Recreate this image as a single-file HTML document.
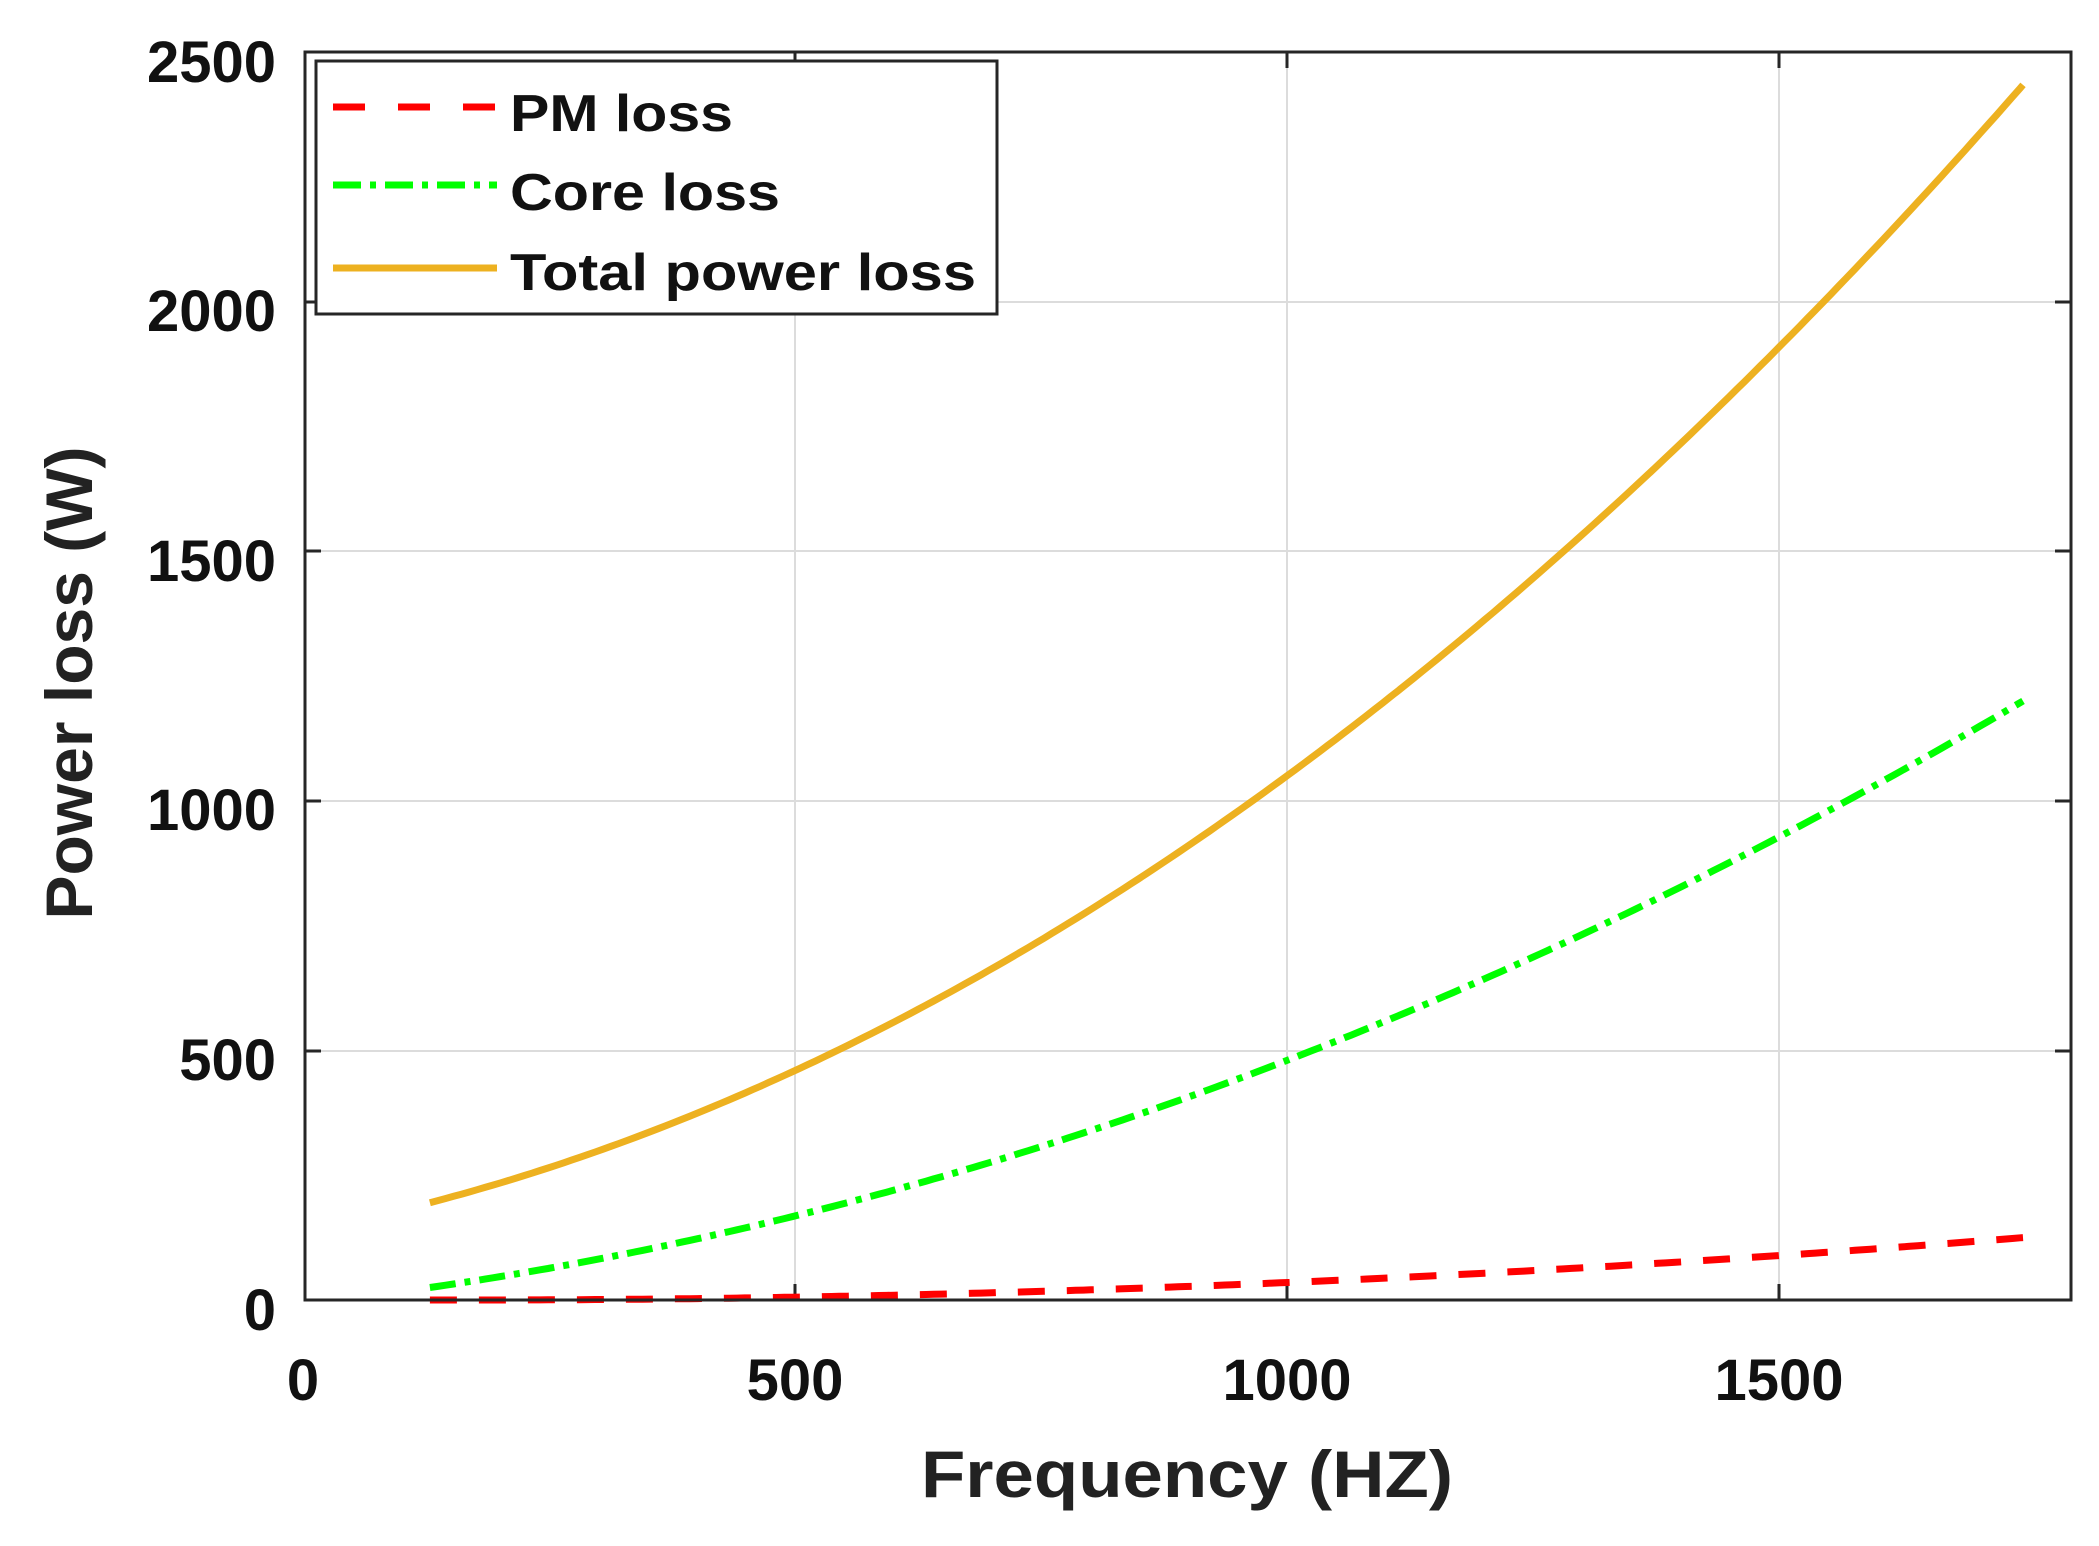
<!DOCTYPE html>
<html><head><meta charset="utf-8"><style>html,body{margin:0;padding:0;background:#fff}svg{display:block}</style></head>
<body>
<svg id="s" width="2099" height="1546" xmlns="http://www.w3.org/2000/svg" font-family="Liberation Sans, Arial, sans-serif" font-weight="bold">
<rect width="2099" height="1546" fill="#fff"/>
<g stroke="#dcdcdc" stroke-width="2">
<line x1="795" y1="52" x2="795" y2="1300"/>
<line x1="1287" y1="52" x2="1287" y2="1300"/>
<line x1="1779" y1="52" x2="1779" y2="1300"/>
<line x1="305" y1="1051" x2="2071" y2="1051"/>
<line x1="305" y1="801" x2="2071" y2="801"/>
<line x1="305" y1="551" x2="2071" y2="551"/>
<line x1="305" y1="302" x2="2071" y2="302"/>
</g>
<g stroke="#262626" stroke-width="3">
<line x1="795" y1="1300" x2="795" y2="1284"/><line x1="1287" y1="1300" x2="1287" y2="1284"/><line x1="1779" y1="1300" x2="1779" y2="1284"/>
<line x1="795" y1="52" x2="795" y2="68"/><line x1="1287" y1="52" x2="1287" y2="68"/><line x1="1779" y1="52" x2="1779" y2="68"/>
<line x1="305" y1="1051" x2="321" y2="1051"/><line x1="305" y1="801" x2="321" y2="801"/><line x1="305" y1="551" x2="321" y2="551"/><line x1="305" y1="302" x2="321" y2="302"/>
<line x1="2071" y1="1051" x2="2055" y2="1051"/><line x1="2071" y1="801" x2="2055" y2="801"/><line x1="2071" y1="551" x2="2055" y2="551"/><line x1="2071" y1="302" x2="2055" y2="302"/>
</g>
<g id="curves" fill="none" stroke-width="7"></g>
<rect x="305" y="52" width="1766" height="1248" fill="none" stroke="#262626" stroke-width="3"/>
<g font-size="58" fill="#111" text-anchor="end">
<text x="276" y="82">2500</text>
<text x="276" y="331">2000</text>
<text x="276" y="581">1500</text>
<text x="276" y="830">1000</text>
<text x="276" y="1080">500</text>
<text x="276" y="1330">0</text>
</g>
<g font-size="58" fill="#111" text-anchor="middle">
<text x="303" y="1400">0</text>
<text x="795" y="1400">500</text>
<text x="1287" y="1400">1000</text>
<text x="1779" y="1400">1500</text>
</g>
<text x="921" y="1497" font-size="66" fill="#222" textLength="532" lengthAdjust="spacingAndGlyphs">Frequency (HZ)</text>
<text transform="translate(92,683) rotate(-90)" font-size="66" fill="#222" text-anchor="middle">Power loss (W)</text>
<rect x="316" y="61" width="681" height="253" fill="#fff" stroke="#262626" stroke-width="3"/>
<line x1="333" y1="107" x2="497" y2="107" stroke="#ff0000" stroke-width="7" stroke-dasharray="32,33"/>
<line x1="333" y1="185" x2="497" y2="185" stroke="#00ff00" stroke-width="7" stroke-dasharray="28,9,6,9"/>
<line x1="333" y1="268" x2="497" y2="268" stroke="#EDB120" stroke-width="7"/>
<g font-size="52" fill="#111">
<text x="510" y="131" textLength="223" lengthAdjust="spacingAndGlyphs">PM loss</text>
<text x="510" y="210" textLength="270" lengthAdjust="spacingAndGlyphs">Core loss</text>
<text x="510" y="290" textLength="466" lengthAdjust="spacingAndGlyphs">Total power loss</text>
</g>
</svg>
<script>
(function(){
var X=function(f){return 303+f*0.984}, Y=function(v){return 1300-v*0.4992};
function path(c,d,e){var s="";for(var f=129;f<=1748;f+=8){s+=(s?"L":"M")+X(f).toFixed(1)+","+Y(c+d*f+e*f*f).toFixed(1);}s+="L"+X(1748).toFixed(1)+","+Y(c+d*1748+e*1748*1748).toFixed(1);return s;}
var g=document.getElementById("curves"),ns="http://www.w3.org/2000/svg";
function add(dd,col,da){var p=document.createElementNS(ns,"path");p.setAttribute("d",dd);p.setAttribute("stroke",col);if(da)p.setAttribute("stroke-dasharray",da);g.appendChild(p);}
add(path(1.2,-0.0157,0.0000495),"#ff0000","27,22");
add(path(-7.3,0.2154,0.0002719),"#00ff00","26,9,6,9");
add(path(137.6,0.3758,0.0005366),"#EDB120");
})();
</script>
</body></html>
